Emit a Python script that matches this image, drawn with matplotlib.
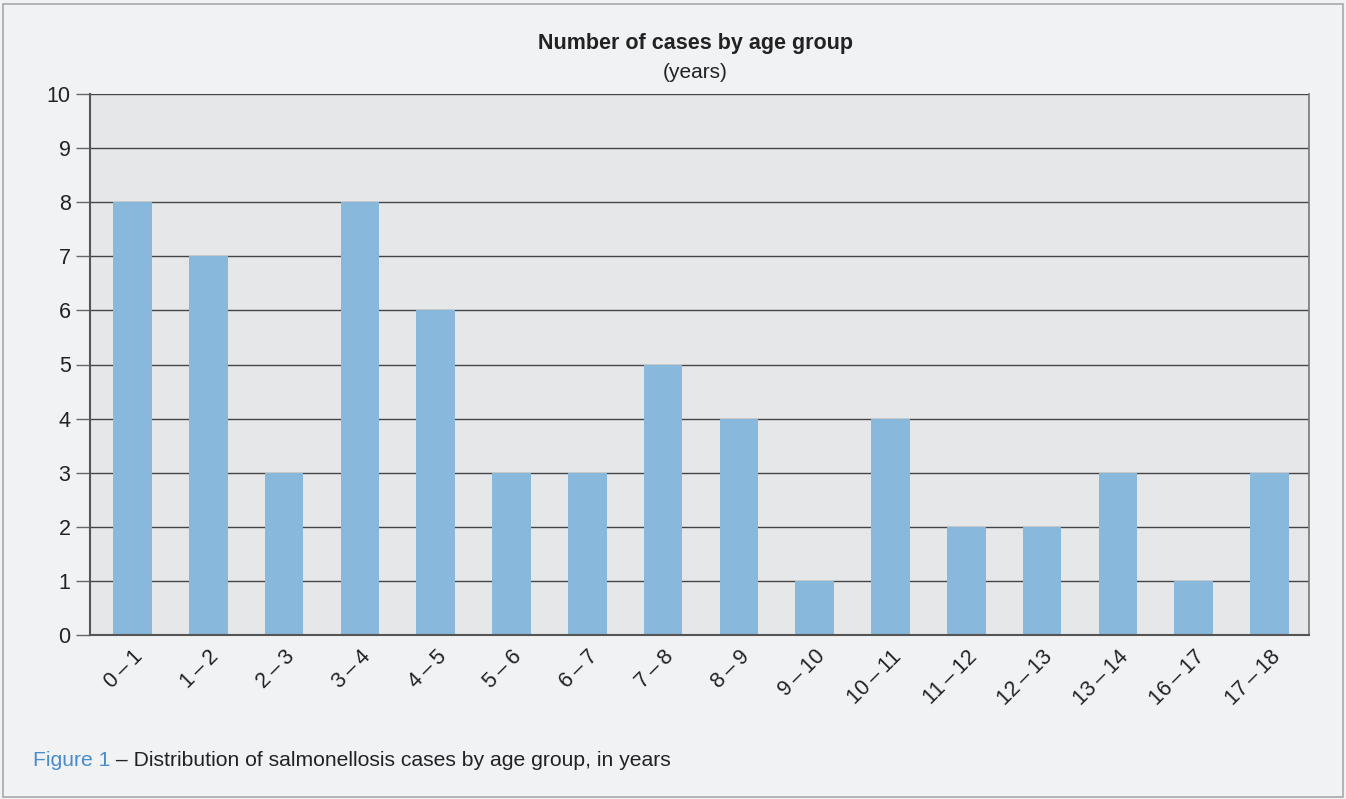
import matplotlib
matplotlib.use("Agg")
import matplotlib.pyplot as plt
from matplotlib.patches import Rectangle

categories = ["0 – 1", "1 – 2", "2 – 3", "3 – 4", "4 – 5", "5 – 6", "6 – 7", "7 – 8",
              "8 – 9", "9 – 10", "10 – 11", "11 – 12", "12 – 13", "13 – 14", "16 – 17", "17 – 18"]
cases = [8, 7, 3, 8, 6, 3, 3, 5, 4, 1, 4, 2, 2, 3, 1, 3]
yticks = list(range(0, 11))

plt.rcParams['font.family'] = ['Liberation Sans', 'DejaVu Sans']

W, H = 1346, 799
fig = plt.figure(figsize=(W / 100, H / 100), dpi=100)
fig.patch.set_facecolor('#f1f2f4')
fig.patches.append(Rectangle((3 / W, 2 / H), (W - 6) / W, (H - 6) / H, transform=fig.transFigure,
                             fill=False, edgecolor='#a8a8a8', linewidth=1.2))

ax = fig.add_axes([90 / W, 1 - 635 / H, (1309 - 90) / W, (635 - 94) / H])
ax.set_facecolor('#e6e7e9')
x = list(range(len(categories)))
ax.bar(x, cases, width=0.51, color='#88b8dc', zorder=3)
ax.set_xlim(-0.56, 15.52)
ax.set_ylim(0, 10)
ax.set_yticks(yticks)
ax.set_yticklabels([str(t) for t in yticks], fontsize=15.5, color='#222222')
ax.yaxis.grid(True, color='#444444', linewidth=1.0)
for gl in ax.get_ygridlines():
    gl.set_zorder(2)
ax.tick_params(axis='y', length=10, width=1, color='#666666', pad=4)
ax.set_xticks(x)
labels = [c.replace(" – ", "\u2009–\u2009") for c in categories]
ax.set_xticklabels(labels, rotation=45, ha='right', rotation_mode='anchor',
                   fontsize=15.5, color='#222222')
ax.tick_params(axis='x', length=0, pad=8)
for s in ['left', 'bottom']:
    ax.spines[s].set_color('#555555')
    ax.spines[s].set_linewidth(1.5)
ax.spines['top'].set_visible(False)
ax.spines['right'].set_color('#777777')
ax.spines['right'].set_linewidth(1.2)
ax.spines['bottom'].set_zorder(5)

fig.text(695 / W, 1 - 43 / H, "Number of cases by age group", ha='center', va='center',
         fontsize=15.5, fontweight='bold', color='#222222')
fig.text(695 / W, 1 - 72 / H, "(years)", ha='center', va='center',
         fontsize=15, color='#222222')

t1 = fig.text(33 / W, 1 - 761 / H, "Figure 1", ha='left', va='center', fontsize=15.2, color='#4a8bc9')
fig.canvas.draw()
bb = t1.get_window_extent()
fig.text(bb.x1 / W, 1 - 761 / H, " – Distribution of salmonellosis cases by age group, in years",
         ha='left', va='center', fontsize=15.2, color='#222222')

fig.savefig('out.png', dpi=100, facecolor=fig.get_facecolor())
